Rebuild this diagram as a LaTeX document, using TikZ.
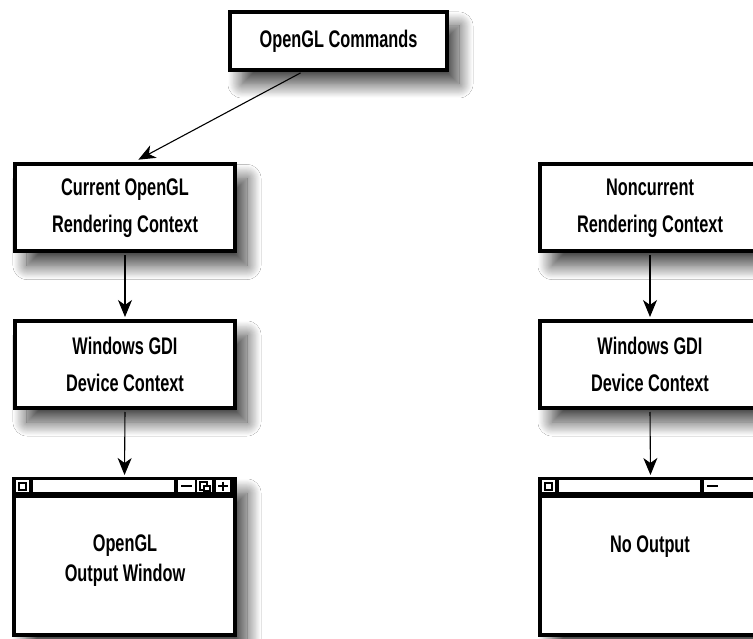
\documentclass[tikz,border=0pt]{standalone}
\usepackage{fontspec}
\newfontfamily\lbl[FakeStretch=0.68]{Liberation Sans}
\usetikzlibrary{arrows.meta,shadows.blur,calc}
\begin{document}
\begin{tikzpicture}[x=1pt,y=-1pt,
  shad/.style={blur shadow={shadow xshift=12pt,shadow yshift=-14pt,shadow blur radius=14pt,shadow blur steps=30,shadow opacity=75}},
  diagbox/.style={draw=black,line width=4pt,fill=white,inner sep=0pt,
    minimum width=220pt,minimum height=87pt,align=center,
    font=\lbl\bfseries\fontsize{24}{37}\selectfont,shad},
  winbox/.style={draw=black,line width=4pt,fill=white,inner sep=0pt,
    minimum width=221pt,minimum height=156pt,shad},
  wtext/.style={inner sep=0pt,align=center,font=\lbl\bfseries\fontsize{24}{30}\selectfont},
  arr/.style={line width=1.1pt,-{Stealth[length=17pt,width=14pt,inset=5pt]}},
  glyph/.style={line width=1.4pt},
]
\clip (0,0) rectangle (753,639);
\fill[white] (0,0) rectangle (753,639);

% nodes
\node[diagbox,minimum width=217pt,minimum height=58pt] (cmd) at (338.5,41) {OpenGL Commands};
\node[diagbox] (cur) at (125,208) {Current OpenGL\\Rendering Context};
\node[diagbox] (gdi1) at (125,364.5) {Windows GDI\\Device Context};
\node[winbox] (win1) at (124.5,557) {};
\node[diagbox] (non) at (650,208) {Noncurrent\\Rendering Context};
\node[diagbox] (gdi2) at (650,364.5) {Windows GDI\\Device Context};
\node[winbox] (win2) at (650.5,557) {};

\node[wtext] (t1) at (125,561) {OpenGL\\Output Window};
\node[wtext] (t2) at (650,547) {No Output};

% title bar, left window
\begin{scope}[shift={(win1.north west)}]
  \fill (0,0) rectangle (221,21);
  \fill[white] (4,3) rectangle (17,15);
  \draw[glyph] (7,6) rectangle (14,13);
  \fill[white] (21,3) rectangle (162,15);
  \fill[white] (166,3) rectangle (183,15);
  \draw[glyph] (169,9) -- (180,9);
  \fill[white] (185,3) rectangle (200,15);
  \draw[glyph] (188,5) rectangle (195,13);
  \draw[glyph,fill=white] (192,9) rectangle (198,14);
  \fill[white] (204,3) rectangle (218,15);
  \draw[glyph] (206,9) -- (216,9) (211,4.5) -- (211,13.5);
\end{scope}

% title bar, right window
\begin{scope}[shift={(win2.north west)}]
  \fill (0,0) rectangle (240,21);
  \fill[white] (4,3) rectangle (17,15);
  \draw[glyph] (7,6) rectangle (14,13);
  \fill[white] (21,3) rectangle (162,15);
  \fill[white] (166,3) rectangle (240,15);
  \draw[glyph] (169,9) -- (180,9);
\end{scope}

% connectors
\draw[arr,shorten <=2pt,shorten >=6pt] ($(cmd.south west)!0.336!(cmd.south east)$) -- ($(cur.north west)!0.536!(cur.north east)$);
\draw[arr,shorten <=2pt,shorten >=2pt] (cur.south) -- (gdi1.north);
\draw[arr,shorten <=2pt,shorten >=2pt] (gdi1.south) -- (win1.north);
\draw[arr,shorten <=2pt,shorten >=2pt] (non.south) -- (gdi2.north);
\draw[arr,shorten <=2pt,shorten >=2pt] (gdi2.south) -- (win2.north);
\end{tikzpicture}
\end{document}
